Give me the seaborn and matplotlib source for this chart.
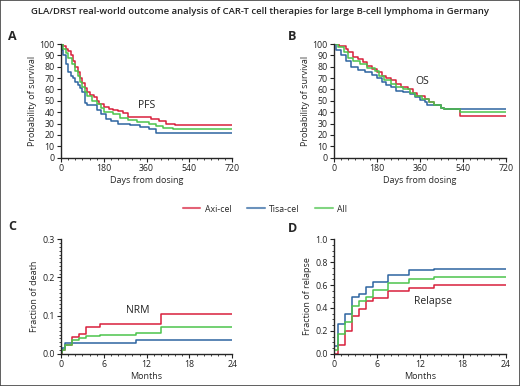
"""
CAR-T real-world outcome figure (PFS, OS, NRM, relapse) - 4 panels.
"""

import matplotlib
matplotlib.use("Agg")
import matplotlib.pyplot as plt
from matplotlib.patches import Rectangle
from matplotlib.ticker import MultipleLocator, FormatStrFormatter
import pandas as pd
import seaborn as sns

# Products / colours
products = ["Axi-cel", "Tisa-cel", "All"]
palette = {"Axi-cel": "#d81f3c", "Tisa-cel": "#2d64a0", "All": "#4cc44c"}

# (A) PFS, days from dosing vs % surviving
pfs_axi_t = [0, 10, 20, 30, 40, 50, 60, 70, 80, 90, 100, 110, 120, 140, 150, 160, 180, 200, 220, 240, 260, 280, 360, 380, 410, 440, 480, 720]
pfs_axi_s = [100, 98, 96, 94, 90, 85, 80, 75, 70, 66, 61, 58, 55, 53, 50, 47, 45, 43, 42, 41, 39, 36, 36, 34, 32, 30, 28.5, 28.5]
pfs_tisa_t = [0, 5, 10, 20, 30, 40, 50, 60, 70, 80, 90, 100, 110, 140, 150, 170, 190, 210, 240, 290, 330, 370, 400, 720]
pfs_tisa_s = [100, 95, 90, 82, 75, 72, 70, 67, 64, 61, 58, 48, 46, 46, 42, 38, 34, 32, 30, 29, 27, 25, 22, 22]
pfs_all_t = [0, 10, 20, 30, 45, 60, 70, 80, 90, 100, 110, 130, 150, 170, 180, 220, 250, 280, 320, 370, 400, 430, 470, 720]
pfs_all_s = [100, 96, 92, 88, 82, 76, 72, 67, 62, 58, 54, 50, 47, 44, 40, 38, 35, 33, 31, 30, 28, 26, 25, 25]

# (B) OS
os_axi_t = [0, 20, 50, 60, 80, 100, 120, 140, 160, 180, 200, 220, 240, 260, 280, 310, 330, 350, 380, 400, 420, 450, 460, 530, 720]
os_axi_s = [100, 98, 96, 93, 89, 87, 84, 81, 78, 75, 72, 70, 68, 65, 62, 60, 57, 54, 52, 49, 46, 44, 42.5, 37, 37]
os_tisa_t = [0, 10, 30, 50, 70, 100, 130, 160, 180, 200, 220, 240, 260, 290, 320, 340, 360, 380, 390, 450, 460, 720]
os_tisa_s = [100, 95, 90, 85, 80, 77, 75, 73, 70, 67, 64, 62, 59, 58, 56, 53, 51, 49, 46, 44, 42.5, 42.5]
os_all_t = [0, 15, 40, 60, 80, 110, 140, 170, 190, 210, 240, 260, 290, 320, 340, 370, 400, 420, 450, 460, 530, 720]
os_all_s = [100, 97, 93, 88, 85, 82, 79, 76, 72, 68, 65, 62, 60, 57, 54, 52, 49, 46, 44, 42.5, 40, 40]

# (C) NRM, months vs cumulative fraction
nrm_axi_t = [0, 0.2, 0.5, 1.5, 2.5, 3.5, 5.5, 14, 24]
nrm_axi_v = [0, 0.01, 0.022, 0.045, 0.052, 0.070, 0.077, 0.105, 0.105]
nrm_tisa_t = [0, 0.2, 0.5, 10.5, 24]
nrm_tisa_v = [0.005, 0.015, 0.027, 0.035, 0.035]
nrm_all_t = [0, 0.2, 0.5, 1.5, 2.5, 3.5, 5.5, 10.5, 14, 24]
nrm_all_v = [0.003, 0.01, 0.022, 0.036, 0.040, 0.047, 0.050, 0.055, 0.069, 0.069]

# (D) relapse
rel_t = [0, 0.5, 1.5, 2.5, 3.5, 4.5, 5.5, 7.5, 10.5, 14, 24]
rel_axi_v = [0, 0.08, 0.20, 0.33, 0.39, 0.46, 0.49, 0.55, 0.57, 0.60, 0.60]
rel_tisa_v = [0.07, 0.26, 0.35, 0.50, 0.52, 0.58, 0.63, 0.69, 0.73, 0.74, 0.74]
rel_all_v = [0.03, 0.17, 0.28, 0.42, 0.46, 0.50, 0.56, 0.62, 0.65, 0.67, 0.67]


def long_df(series):
    rows = []
    for name, t, v in series:
        for ti, vi in zip(t, v):
            rows.append({"t": ti, "v": vi, "product": name})
    return pd.DataFrame(rows)


sns.set_style("ticks")
plt.rcParams["font.family"] = ["Open Sans", "DejaVu Sans"]
plt.rcParams["axes.linewidth"] = 1.0

fig = plt.figure(figsize=(5.2, 3.86), dpi=100)

W, H = 520, 386


def make_ax(x0, x1, ytop, ybot):
    return fig.add_axes([x0 / W, 1 - ybot / H, (x1 - x0) / W, (ybot - ytop) / H])


axA = make_ax(61, 232.3, 44, 157.7)
axB = make_ax(334, 505.7, 44, 157.7)
axC = make_ax(61, 232.3, 239.3, 353.7)
axD = make_ax(334, 505.7, 239.3, 353.7)

panels = [
    (axA, long_df([("Axi-cel", pfs_axi_t, pfs_axi_s), ("Tisa-cel", pfs_tisa_t, pfs_tisa_s), ("All", pfs_all_t, pfs_all_s)])),
    (axB, long_df([("Axi-cel", os_axi_t, os_axi_s), ("Tisa-cel", os_tisa_t, os_tisa_s), ("All", os_all_t, os_all_s)])),
    (axC, long_df([("Axi-cel", nrm_axi_t, nrm_axi_v), ("Tisa-cel", nrm_tisa_t, nrm_tisa_v), ("All", nrm_all_t, nrm_all_v)])),
    (axD, long_df([("Axi-cel", rel_t, rel_axi_v), ("Tisa-cel", rel_t, rel_tisa_v), ("All", rel_t, rel_all_v)])),
]

for ax, df in panels:
    sns.lineplot(data=df, x="t", y="v", hue="product", hue_order=products,
                 palette=palette, estimator=None, sort=False,
                 drawstyle="steps-post", linewidth=1.1, ax=ax, legend=False)
    sns.despine(ax=ax)
    ax.tick_params(axis="both", which="major", labelsize=6.3, length=3, width=0.8, pad=1.5, colors="#222222")
    ax.tick_params(axis="both", which="minor", length=1.6, width=0.6)

# survival panels
for ax, label, lx, ly in [(axA, "PFS", 360, 46), (axB, "OS", 372, 67)]:
    ax.set_xlim(0, 720)
    ax.set_ylim(0, 100)
    ax.xaxis.set_major_locator(MultipleLocator(180))
    ax.xaxis.set_minor_locator(MultipleLocator(30))
    ax.yaxis.set_major_locator(MultipleLocator(10))
    ax.set_xlabel("Days from dosing", fontsize=6.5, labelpad=2)
    ax.set_ylabel("Probability of survival", fontsize=6.5, labelpad=2)
    ax.text(lx, ly, label, fontsize=7.5, ha="center", va="center", color="#222222")

# cumulative incidence panels
for ax, ymax, ymaj, ymin, ylab, label, lx, ly in [
    (axC, 0.3, 0.1, 0.01, "Fraction of death", "NRM", 10.8, 0.113),
    (axD, 1.0, 0.2, 0.05, "Fraction of relapse", "Relapse", 13.9, 0.46),
]:
    ax.set_xlim(0, 24)
    ax.set_ylim(0, ymax)
    ax.xaxis.set_major_locator(MultipleLocator(6))
    ax.xaxis.set_minor_locator(MultipleLocator(1))
    ax.yaxis.set_major_locator(MultipleLocator(ymaj))
    ax.yaxis.set_minor_locator(MultipleLocator(ymin))
    ax.yaxis.set_major_formatter(FormatStrFormatter("%.1f"))
    ax.set_xlabel("Months", fontsize=6.5, labelpad=2)
    ax.set_ylabel(ylab, fontsize=6.5, labelpad=2)
    ax.text(lx, ly, label, fontsize=7.5, ha="center", va="center", color="#222222")

# panel letters
for letter, x, y in [("A", 8, 37), ("B", 288, 37), ("C", 8, 227), ("D", 288, 228)]:
    fig.text(x / W, 1 - y / H, letter, fontsize=9, fontweight="bold", va="center", ha="left")

fig.text(0.5, 1 - 12 / H,
         "GLA/DRST real-world outcome analysis of CAR-T cell therapies for large B-cell lymphoma in Germany",
         fontsize=6.8, fontweight="semibold", ha="center", va="center", color="#222222")

handles = [plt.Line2D([], [], color=palette[p], lw=1.5, alpha=0.7) for p in products]
fig.legend(handles, products, loc="center", bbox_to_anchor=(265 / W, 1 - 209 / H),
           ncol=3, frameon=False, fontsize=6.3, handlelength=2.0, columnspacing=1.8,
           handletextpad=0.5)

fig.patches.append(Rectangle((0, 0), 1, 1, transform=fig.transFigure, fill=False,
                             edgecolor="#444444", linewidth=1.2))

plt.savefig("out.png", dpi=100)
plt.close()
